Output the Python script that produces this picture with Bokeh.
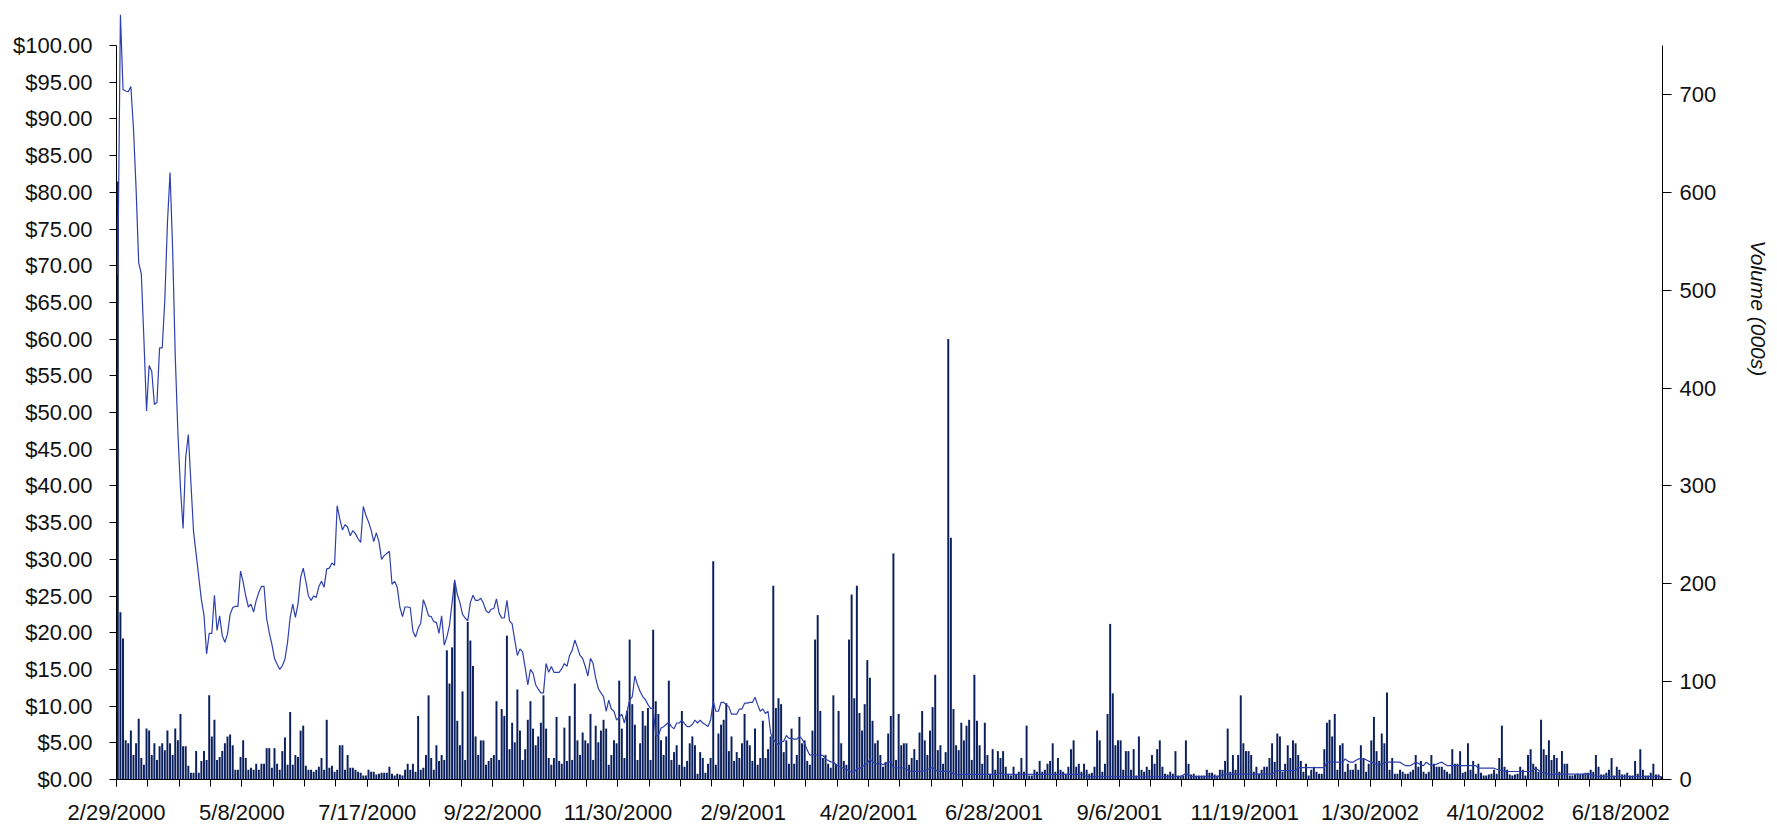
import numpy as np
from bokeh.plotting import figure
from bokeh.models import Range1d, LinearAxis, FixedTicker, PrintfTickFormatter, Title
from bokeh.embed import file_html
from bokeh.resources import INLINE

# x-axis labels: one every 48 trading days, tick marks every 12 trading days
date_labels = ["2/29/2000", "5/8/2000", "7/17/2000", "9/22/2000", "11/30/2000",
               "2/9/2001", "4/20/2001", "6/28/2001", "9/6/2001", "11/19/2001",
               "1/30/2002", "4/10/2002", "6/18/2002"]
label_step = 48
tick_step = 12
price_ticks = [0, 5, 10, 15, 20, 25, 30, 35, 40, 45, 50, 55, 60, 65, 70, 75, 80, 85, 90, 95, 100]
volume_ticks = [0, 100, 200, 300, 400, 500, 600, 700]
volume_title = "Volume (000s)"

# daily closing price ($), one value per trading day
price = [
    68.8, 104.2, 94.0, 93.8, 93.7, 94.4, 88.7, 80.5, 70.4, 68.9,
    59.9, 50.2, 56.4, 55.6, 51.1, 51.4, 58.8, 58.8, 65.3, 75.8,
    82.7, 72.2, 57.7, 47.3, 39.7, 34.2, 43.9, 47.0, 40.4, 33.8,
    30.7, 27.6, 24.5, 22.4, 17.1, 19.9, 19.9, 25.1, 20.3, 22.3,
    19.6, 18.7, 19.8, 22.5, 23.4, 23.6, 23.6, 28.4, 26.9, 25.0,
    23.5, 23.9, 22.8, 24.4, 25.5, 26.3, 26.3, 21.9, 20.0, 18.4,
    16.5, 15.7, 15.0, 15.5, 16.4, 18.7, 22.1, 23.9, 22.1, 23.9,
    27.5, 28.8, 27.0, 25.0, 24.4, 25.0, 24.8, 26.3, 27.0, 26.2,
    28.7, 28.8, 29.5, 29.2, 37.3, 35.5, 34.0, 34.7, 34.4, 33.2,
    33.9, 33.5, 32.8, 32.3, 37.2, 36.0, 35.1, 34.0, 32.4, 33.6,
    32.4, 30.0, 30.5, 30.8, 31.1, 26.6, 27.0, 26.2, 23.5, 22.2,
    23.5, 23.5, 23.4, 20.2, 19.4, 20.6, 21.3, 24.5, 23.5, 22.3,
    22.2, 21.5, 21.4, 19.9, 22.3, 18.3, 19.4, 21.0, 24.1, 27.2,
    25.2, 24.1, 22.5, 22.0, 21.6, 24.1, 25.1, 24.4, 24.4, 24.7,
    24.0, 23.0, 22.7, 23.2, 23.3, 24.6, 22.7, 22.0, 22.0, 24.4,
    21.6, 21.2, 19.0, 16.9, 17.8, 17.4, 15.2, 12.9, 15.0, 14.5,
    12.9, 12.3, 11.8, 11.8, 15.8, 14.6, 15.4, 14.6, 14.6, 14.6,
    15.1, 15.8, 15.4, 16.9, 17.6, 19.0, 18.0, 16.9, 16.5, 15.4,
    14.1, 16.5, 15.8, 13.8, 12.4, 11.8, 11.3, 9.3, 10.8, 9.6,
    9.3, 8.1, 8.5, 8.9, 7.7, 9.3, 10.8, 11.3, 14.1, 12.9,
    12.0, 11.3, 10.9, 10.2, 9.7, 9.7, 6.0, 6.0, 7.0, 7.2,
    7.5, 7.8, 7.2, 6.9, 7.7, 7.7, 8.1, 7.6, 7.2, 7.2,
    7.5, 8.1, 7.7, 8.1, 7.7, 7.5, 7.2, 8.1, 10.7, 9.3,
    9.3, 10.5, 10.5, 10.2, 9.9, 8.9, 8.9, 8.9, 9.6, 9.6,
    10.4, 10.4, 10.5, 10.5, 11.2, 10.2, 9.3, 9.6, 9.0, 9.3,
    6.3, 5.5, 5.0, 4.7, 5.2, 5.2, 6.0, 5.6, 5.6, 5.5,
    5.5, 5.9, 5.5, 4.9, 4.0, 3.3, 3.4, 3.4, 3.3, 3.3,
    3.3, 2.8, 2.6, 2.4, 2.4, 2.0, 1.8, 1.7, 1.5, 1.4,
    1.2, 1.0, 1.0, 1.5, 1.5, 1.7, 2.0, 2.2, 2.8, 2.4,
    2.2, 2.1, 2.2, 2.0, 2.2, 2.3, 2.45, 1.6, 1.6, 1.6,
    1.6, 1.6, 1.4, 1.2, 1.1, 1.1, 1.1, 1.1, 1.15, 1.2,
    1.35, 1.5, 1.63, 1.35, 1.1, 1.1, 1.1, 1.1, 1.1, 1.0,
    0.8, 0.65, 0.65, 0.7, 0.7, 0.7, 0.7, 0.7, 0.7, 0.7,
    0.7, 0.7, 0.7, 0.7, 0.7, 0.7, 0.7, 0.7, 1.0, 0.65,
    0.7, 0.7, 0.7, 0.7, 0.7, 0.7, 0.7, 0.7, 0.7, 0.7,
    0.7, 0.7, 0.7, 0.7, 0.7, 0.7, 0.7, 0.7, 0.7, 0.7,
    0.7, 0.7, 0.7, 0.7, 0.7, 0.7, 0.7, 0.7, 0.7, 0.7,
    0.55, 0.4, 0.4, 0.4, 0.4, 0.4, 0.4, 0.4, 0.4, 0.4,
    0.4, 0.4, 0.4, 0.4, 0.4, 0.4, 0.4, 0.4, 0.4, 0.4,
    0.4, 0.4, 0.4, 0.4, 0.4, 0.4, 0.4, 0.4, 0.4, 0.4,
    0.4, 0.4, 0.4, 0.4, 0.4, 0.4, 0.4, 0.4, 0.6, 0.85,
    0.6, 0.4, 0.4, 0.4, 0.4, 0.4, 0.4, 0.4, 0.4, 0.4,
    0.4, 0.4, 0.5, 0.6, 0.73, 0.73, 0.73, 0.73, 0.73, 0.73,
    0.73, 0.73, 0.73, 0.73, 0.73, 0.73, 0.73, 0.73, 0.73, 0.73,
    0.73, 0.73, 0.73, 1.0, 1.2, 1.2, 1.2, 1.2, 1.2, 1.2,
    1.2, 1.2, 1.63, 1.63, 1.63, 1.63, 1.63, 1.63, 1.63, 1.63,
    1.63, 1.63, 1.63, 2.36, 2.36, 2.36, 2.36, 2.36, 2.36, 2.36,
    2.8, 2.5, 2.36, 2.36, 2.6, 2.8, 2.8, 2.8, 2.7, 2.5,
    2.4, 2.2, 2.0, 1.9, 2.1, 2.25, 2.36, 2.36, 2.36, 2.36,
    2.36, 2.36, 2.1, 1.9, 1.9, 1.9, 2.1, 2.36, 2.2, 2.0,
    1.9, 2.36, 2.1, 1.9, 2.0, 2.1, 2.25, 2.36, 2.1, 1.9,
    1.9, 1.9, 1.9, 1.9, 1.9, 1.9, 1.9, 1.9, 1.9, 1.9,
    1.9, 1.54, 1.54, 1.54, 1.54, 1.54, 1.54, 1.54, 1.4, 1.3,
    1.2, 1.15, 1.09, 1.09, 1.09, 1.09, 1.09, 1.09, 1.09, 1.09,
    1.09, 1.09, 1.3, 1.54, 1.25, 1.0, 0.9, 0.8, 0.7, 0.64,
    0.73, 0.73, 0.73, 0.73, 0.73, 0.73, 0.73, 0.73, 0.73, 0.73,
    0.73, 0.73, 0.73, 0.73, 0.73, 0.55, 0.41, 0.41, 0.41, 0.41,
    0.41, 0.41, 0.41, 0.41, 0.41, 0.41, 0.41, 0.41, 0.41, 0.41,
    0.41, 0.41, 0.41, 0.41, 0.41, 0.41, 0.41, 0.41, 0.41, 0.41,
    0.41, 0.41,
]

# daily volume (000s shares), one value per trading day
volume = [
    611, 171, 144, 40, 37, 50, 25, 37, 62, 22,
    15, 52, 50, 25, 37, 20, 34, 37, 30, 50,
    37, 25, 52, 40, 67, 34, 34, 14, 7, 7,
    29, 7, 19, 29, 20, 86, 44, 61, 20, 23,
    29, 37, 44, 46, 35, 10, 10, 23, 40, 22,
    10, 12, 10, 16, 10, 16, 16, 32, 32, 12,
    32, 16, 10, 29, 43, 15, 69, 15, 25, 23,
    50, 55, 14, 10, 10, 8, 10, 13, 22, 10,
    61, 12, 14, 8, 10, 35, 35, 10, 25, 12,
    12, 10, 8, 7, 4, 4, 10, 8, 8, 5,
    6, 7, 7, 7, 13, 6, 4, 6, 5, 4,
    10, 16, 10, 16, 8, 65, 10, 12, 25, 86,
    22, 10, 35, 19, 25, 20, 132, 98, 135, 201,
    60, 35, 90, 20, 161, 142, 116, 44, 25, 40,
    40, 15, 19, 22, 25, 80, 20, 72, 65, 147,
    31, 58, 38, 92, 50, 20, 31, 61, 80, 52,
    35, 44, 58, 86, 52, 22, 15, 22, 64, 19,
    16, 53, 19, 65, 20, 98, 40, 25, 48, 40,
    37, 67, 20, 55, 38, 50, 61, 52, 15, 25,
    40, 37, 101, 52, 22, 70, 143, 77, 56, 20,
    37, 70, 55, 73, 20, 153, 80, 67, 40, 25,
    44, 101, 20, 28, 35, 15, 70, 13, 19, 37,
    44, 35, 6, 28, 22, 7, 16, 22, 223, 15,
    47, 56, 61, 78, 29, 44, 19, 28, 22, 37,
    67, 40, 35, 19, 52, 15, 22, 60, 22, 31,
    44, 198, 73, 83, 77, 28, 40, 16, 52, 16,
    25, 64, 37, 40, 19, 15, 50, 143, 168, 70,
    22, 25, 16, 12, 86, 16, 70, 37, 19, 15,
    143, 189, 83, 198, 68, 50, 77, 122, 104, 60,
    37, 40, 25, 13, 18, 47, 65, 231, 20, 67,
    35, 37, 37, 15, 22, 31, 20, 48, 70, 40,
    25, 50, 74, 107, 30, 35, 16, 28, 450, 247,
    72, 35, 30, 58, 40, 55, 61, 20, 107, 60,
    35, 16, 58, 25, 6, 31, 10, 29, 22, 29,
    13, 6, 4, 13, 5, 8, 22, 8, 55, 4,
    4, 10, 8, 19, 8, 10, 16, 19, 37, 8,
    22, 10, 8, 6, 13, 31, 40, 13, 16, 8,
    16, 10, 6, 7, 13, 50, 40, 8, 16, 67,
    159, 88, 35, 40, 40, 10, 29, 29, 10, 31,
    4, 44, 10, 8, 13, 10, 25, 16, 31, 40,
    13, 6, 5, 8, 6, 29, 4, 4, 4, 40,
    16, 5, 6, 4, 4, 4, 4, 10, 7, 7,
    5, 4, 10, 10, 19, 52, 8, 25, 10, 25,
    86, 37, 29, 29, 25, 8, 13, 6, 10, 13,
    13, 22, 37, 18, 47, 44, 8, 16, 35, 22,
    40, 37, 25, 19, 8, 16, 4, 10, 13, 8,
    6, 6, 31, 58, 61, 44, 67, 10, 35, 37,
    8, 16, 10, 10, 16, 10, 35, 22, 8, 16,
    40, 64, 29, 19, 47, 37, 89, 10, 22, 6,
    6, 10, 8, 6, 6, 8, 10, 25, 13, 19,
    8, 6, 8, 25, 16, 13, 13, 13, 10, 8,
    6, 31, 16, 16, 29, 7, 8, 37, 10, 19,
    6, 16, 7, 4, 4, 5, 6, 10, 6, 22,
    55, 13, 10, 5, 4, 5, 6, 13, 10, 4,
    25, 31, 16, 13, 8, 61, 31, 25, 40, 20,
    25, 22, 8, 29, 16, 16, 4, 4, 5, 6,
    5, 6, 7, 7, 10, 8, 25, 13, 5, 5,
    7, 10, 22, 4, 13, 10, 5, 5, 7, 4,
    4, 19, 6, 31, 10, 4, 4, 7, 16, 5,
    5, 3,
]

N = len(price)
day_center = np.arange(N) + 0.5

# layout (pixels)
W, H = 1777, 827
BORDER_L, BORDER_R, BORDER_T, BORDER_B = 116, 115, 10, 48
PX_PER_DOLLAR = 7.34
frame_h = H - BORDER_T - BORDER_B
PRICE_MAX = frame_h / PX_PER_DOLLAR
VOL_PER_DOLLAR = 7.5

FONT = "Liberation Sans"
NAVY = "#0a1f5c"
LINE_BLUE = "#2e3fae"
TEXT = "#111111"

p = figure(width=W, height=H, output_backend="svg", toolbar_location=None,
           x_range=Range1d(0, N), y_range=Range1d(0, PRICE_MAX),
           min_border_left=BORDER_L, min_border_right=BORDER_R,
           min_border_top=BORDER_T, min_border_bottom=BORDER_B)
p.extra_y_ranges = {"vol": Range1d(0, PRICE_MAX * VOL_PER_DOLLAR)}
p.outline_line_color = None
p.xgrid.visible = False
p.ygrid.visible = False
p.background_fill_color = "white"
p.border_fill_color = "white"

p.vbar(x=day_center, top=volume, width=0.75, bottom=0, y_range_name="vol",
       fill_color=NAVY, line_color=None)
p.line(day_center, price, line_color=LINE_BLUE, line_width=1.2)

# left price axis
ya = p.yaxis[0]
ya.ticker = FixedTicker(ticks=price_ticks)
ya.formatter = PrintfTickFormatter(format="$%.2f")
ya.bounds = (0, 100)
ya.major_tick_out = 7
ya.major_tick_in = 0
ya.minor_tick_out = 0
ya.minor_tick_in = 0
ya.major_label_standoff = 17
ya.major_label_text_font = FONT
ya.major_label_text_font_size = "22px"
ya.major_label_text_color = TEXT
ya.axis_line_color = "#000000"
ya.major_tick_line_color = "#000000"

# right volume axis
ra = LinearAxis(y_range_name="vol", ticker=FixedTicker(ticks=volume_ticks), bounds=(0, 750))
ra.major_tick_out = 9
ra.major_tick_in = 0
ra.minor_tick_out = 0
ra.minor_tick_in = 0
ra.major_label_standoff = 8
ra.major_label_text_font = FONT
ra.major_label_text_font_size = "22px"
ra.major_label_text_color = TEXT
ra.axis_line_color = "#000000"
ra.major_tick_line_color = "#000000"
p.add_layout(ra, "right")

# rotated title of the volume axis; the empty second line pushes it outward
vol_title = Title(text=volume_title + "\n", align="left", offset=230, vertical_align="bottom",
                  standoff=8, text_font=FONT, text_font_style="italic",
                  text_font_size="21px", text_color=TEXT)
p.add_layout(vol_title, "right")

# bottom date axis
xa = p.xaxis[0]
label_pos = [label_step * k for k in range(len(date_labels))]
xa.ticker = FixedTicker(ticks=label_pos,
                        minor_ticks=[tick_step * k for k in range(N // tick_step + 1)])
xa.major_label_overrides = {pos: lab for pos, lab in zip(label_pos, date_labels)}
xa.major_tick_out = 7
xa.major_tick_in = 0
xa.minor_tick_out = 7
xa.minor_tick_in = 0
xa.major_label_standoff = 13
xa.major_label_text_font = FONT
xa.major_label_text_font_size = "22px"
xa.major_label_text_color = TEXT
xa.axis_line_color = "#000000"
xa.major_tick_line_color = "#000000"
xa.minor_tick_line_color = "#000000"

open("out.html", "w").write(file_html(p, INLINE))
